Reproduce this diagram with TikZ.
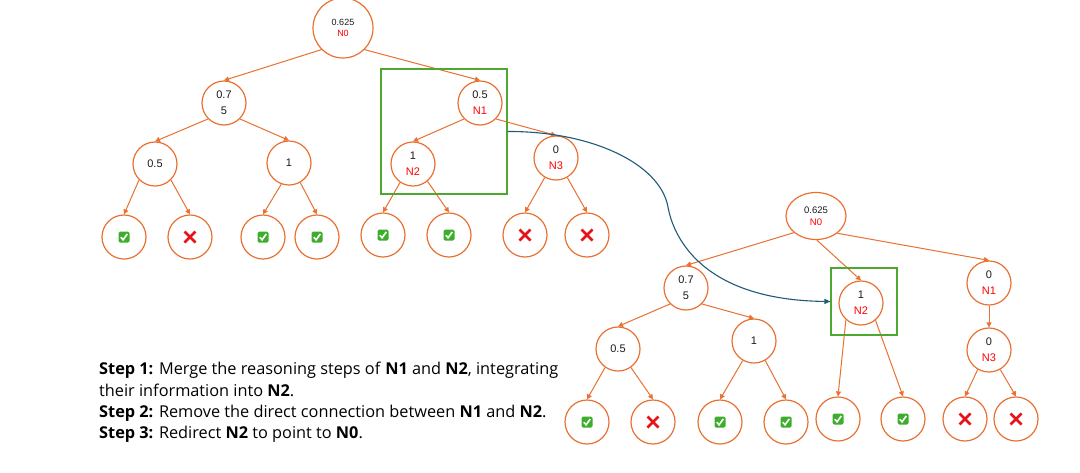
\documentclass[tikz,border=0pt]{standalone}
\usepackage{fontspec}
\setmainfont{Liberation Sans}
\newfontfamily\stepfont{Open Sans}
\usetikzlibrary{arrows.meta,shapes.geometric}
\definecolor{orng}{HTML}{E97132}
\definecolor{grn}{HTML}{4EA72E}
\definecolor{blu}{HTML}{1F5A7D}
\definecolor{redt}{HTML}{FF0000}
\definecolor{txt}{HTML}{1A1A1A}
\definecolor{okgreen}{HTML}{3DAE2B}
\definecolor{nored}{HTML}{E5141B}
\begin{document}
\begin{tikzpicture}[x=1pt,y=-1pt,
  nd/.style={circle,draw=orng,line width=1.2pt,minimum size=44pt,inner sep=0pt,align=center,text=txt,font=\fontsize{11}{16}\selectfont},
  leaf/.style={circle,draw=orng,line width=1.2pt,minimum size=44pt,inner sep=0pt},
  edge/.style={draw=orng,line width=1pt,-{Triangle[length=5pt,width=5pt]}},
  hbox/.style={draw=grn,line width=1.2pt,rectangle,inner sep=0pt},
  conn/.style={draw=blu,line width=1.1pt,-{Triangle[length=6pt,width=5pt]}},
  steptext/.style={anchor=base west,inner sep=0pt,text=black,font=\stepfont\fontsize{16.3}{20}\selectfont},
  okpic/.pic={\fill[okgreen,rounded corners=1.5pt] (-5.5,-5.5) rectangle (5.5,5.5);
              \draw[white,line width=1.6pt] (-3.2,0.2) -- (-0.9,2.8) -- (3.3,-3.1);},
  nopic/.pic={\draw[nored,line width=2.6pt] (-5.5,-5.5) -- (5.5,5.5) (-5.5,5.5) -- (5.5,-5.5);}
]
\useasboundingbox[fill=white] (0,0) rectangle (1080,472);

% ---------- top tree ----------
\node[nd,minimum size=60pt,font=\fontsize{9}{11.5}\selectfont] (a0) at (343,28) {0.625\\\textcolor{redt}{N0}};
\node[nd] (a1) at (224,103) {0.7\\5};
\node[nd] (a2) at (480,103) {0.5\\\textcolor{redt}{N1}};
\node[nd] (a11) at (155,164) {0.5};
\node[nd] (a12) at (289,163) {1};
\node[nd] (a21) at (413,164) {1\\\textcolor{redt}{N2}};
\node[nd] (a22) at (556,158) {0\\\textcolor{redt}{N3}};
\node[leaf] (l1) at (124,237) {};
\node[leaf] (l2) at (190,237) {};
\node[leaf] (l3) at (263,237) {};
\node[leaf] (l4) at (317,237) {};
\node[leaf] (l5) at (383,235) {};
\node[leaf] (l6) at (449,235) {};
\node[leaf] (l7) at (525,235) {};
\node[leaf] (l8) at (587,235) {};
\pic at (l1) {okpic}; \pic at (l2) {nopic}; \pic at (l3) {okpic}; \pic at (l4) {okpic};
\pic at (l5) {okpic}; \pic at (l6) {okpic}; \pic at (l7) {nopic}; \pic at (l8) {nopic};

\draw[edge] (a0.-135) -- (a1.north);
\draw[edge] (a0.-45) -- (a2.north);
\draw[edge] (a1.-135) -- (a11.north);
\draw[edge] (a1.-45) -- (a12.north);
\draw[edge] (a2.-135) -- (a21.north);
\draw[edge] (a2.-45) -- (a22.north);
\draw[edge] (a11.-135) -- (l1.north);
\draw[edge] (a11.-45) -- (l2.north);
\draw[edge] (a12.-110) -- (l3.north);
\draw[edge] (a12.-60) -- (l4.north);
\draw[edge] (a21.-125) -- (l5.north);
\draw[edge] (a21.-50) -- (l6.north);
\draw[edge] (a22.-120) -- (l7.north);
\draw[edge] (a22.-60) -- (l8.north);

\node[hbox,minimum width=126pt,minimum height=125pt] (boxA) at (444,131.5) {};

% ---------- bottom tree ----------
\node[nd,ellipse,minimum width=60pt,minimum height=47pt,font=\fontsize{9.5}{12.5}\selectfont] (b0) at (816,216) {0.625\\\textcolor{redt}{N0}};
\node[nd] (b1) at (686,288) {0.7\\5};
\node[nd] (b2) at (861,303) {1\\\textcolor{redt}{N2}};
\node[nd] (b3) at (989,283) {0\\\textcolor{redt}{N1}};
\node[nd] (b11) at (618,349) {0.5};
\node[nd] (b12) at (754,341) {1};
\node[nd] (b31) at (989,350) {0\\\textcolor{redt}{N3}};
\node[leaf] (m1) at (587,422) {};
\node[leaf] (m2) at (653,422) {};
\node[leaf] (m3) at (720,422) {};
\node[leaf] (m4) at (786,422) {};
\node[leaf] (m5) at (838,419) {};
\node[leaf] (m6) at (903,419) {};
\node[leaf] (m7) at (965,419) {};
\node[leaf] (m8) at (1016,419) {};
\pic at (m1) {okpic}; \pic at (m2) {nopic}; \pic at (m3) {okpic}; \pic at (m4) {okpic};
\pic at (m5) {okpic}; \pic at (m6) {okpic}; \pic at (m7) {nopic}; \pic at (m8) {nopic};

\draw[edge] (b0.-143) -- (b1.north);
\draw[edge] (b0.-88) -- (b2.north);
\draw[edge] (b0.-39) -- (b3.north);
\draw[edge] (b1.-135) -- (b11.north);
\draw[edge] (b1.-45) -- (b12.north);
\draw[edge] (b11.-125) -- (m1.north);
\draw[edge] (b11.-55) -- (m2.north);
\draw[edge] (b12.-120) -- (m3.north);
\draw[edge] (b12.-60) -- (m4.north);
\draw[edge] (b2.-132) -- (m5.north);
\draw[edge] (b2.-50) -- (m6.north);
\draw[edge] (b3.south) -- (b31.north);
\draw[edge] (b31.-120) -- (m7.north);
\draw[edge] (b31.-60) -- (m8.north);

\node[hbox,minimum width=66pt,minimum height=67pt] (boxB) at (864,301.5) {};

% ---------- redirect connector ----------
\draw[conn] (boxA.east) .. controls (590,131) and (660,163) .. (668,207)
            .. controls (673,235) and (700,300) .. (boxB.west);

% ---------- steps ----------
\node[steptext] (s1) at (99,374) {\textbf{Step 1:} Merge the reasoning steps of \textbf{N1} and \textbf{N2}, integrating};
\node[steptext] (s2) at (99,396) {their information into \textbf{N2}.};
\node[steptext] (s3) at (99,417) {\textbf{Step 2:} Remove the direct connection between \textbf{N1} and \textbf{N2}.};
\node[steptext] (s4) at (99,438) {\textbf{Step 3:} Redirect \textbf{N2} to point to \textbf{N0}.};
\end{tikzpicture}
\end{document}
